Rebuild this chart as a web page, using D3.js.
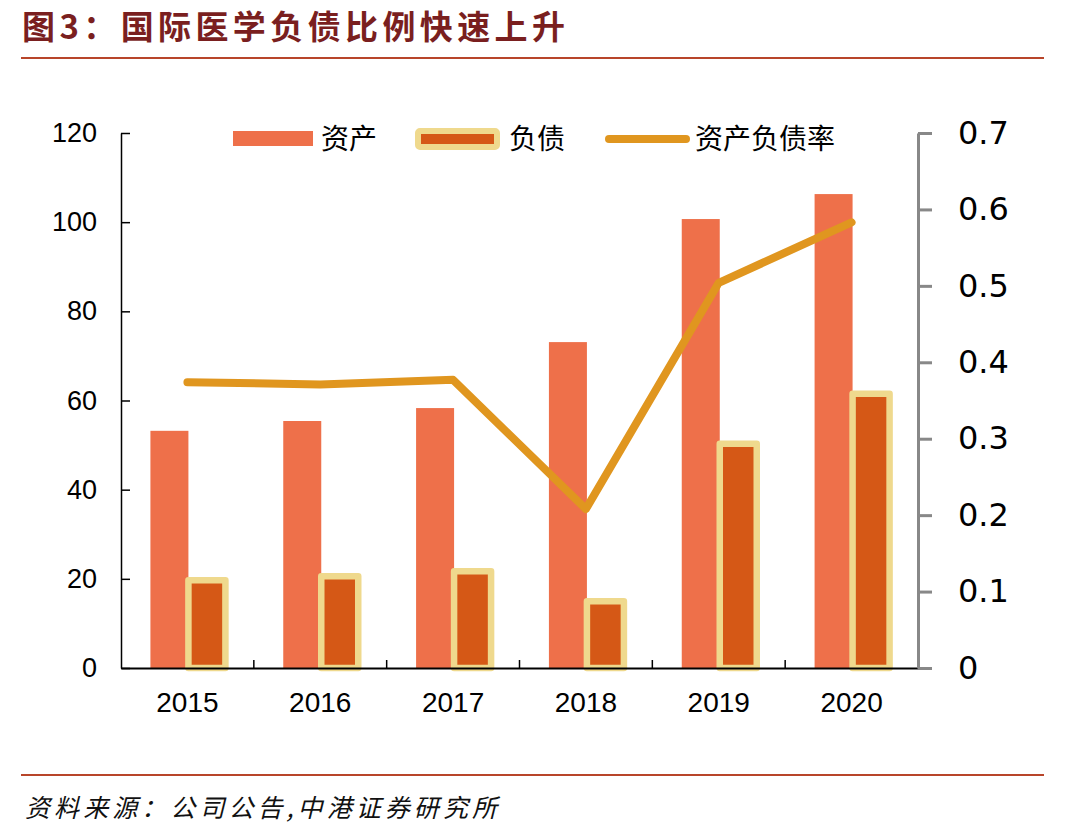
<!DOCTYPE html>
<html>
<head>
<meta charset="utf-8">
<script src="https://cdn.jsdelivr.net/npm/d3@7"></script>
<style>
  body { margin: 0; background: #fff; }
  svg { display: block; }
</style>
</head>
<body>
<svg width="1092" height="839"></svg>
<script>
// data
var years = ["2015", "2016", "2017", "2018", "2019", "2020"];
var assets = [53.2, 55.4, 58.3, 73.1, 100.7, 106.3];
var debts = [19.7, 20.6, 21.7, 15.0, 50.3, 61.5];
var ratio = [0.374, 0.371, 0.377, 0.208, 0.504, 0.583];
var leftTicks = [0, 20, 40, 60, 80, 100, 120];
var rightTicks = [0, 0.1, 0.2, 0.3, 0.4, 0.5, 0.6, 0.7];

function main(){
    var svg = d3.select("svg");
    var cAsset = "#EE704A", cDebt = "#D55816", cEdge = "#EFD98D", cLine = "#E0961F";
    var cjk = "'Noto Sans CJK SC', sans-serif";

    // title + rules
    svg.append("text")
        .attr("x", 22).attr("y", 39)
        .attr("font-family", cjk).attr("font-weight", "bold")
        .attr("font-size", "33px").attr("fill", "#7A1F1F")
        .attr("textLength", 543).attr("lengthAdjust", "spacing")
        .text("图3：国际医学负债比例快速上升");
    svg.append("line").attr("x1", 21).attr("x2", 1044).attr("y1", 58).attr("y2", 58)
        .attr("stroke", "#B8452A").attr("stroke-width", 2);
    svg.append("line").attr("x1", 21).attr("x2", 1044).attr("y1", 775).attr("y2", 775)
        .attr("stroke", "#B8452A").attr("stroke-width", 2);
    svg.append("text")
        .attr("x", 25).attr("y", 817)
        .attr("font-family", cjk).attr("font-style", "italic")
        .attr("font-size", "25px").attr("fill", "#111")
        .attr("textLength", 472).attr("lengthAdjust", "spacing")
        .text("资料来源：公司公告,中港证券研究所");

    var left = 121, right = 918, top = 133, bottom = 668;
    var x = d3.scaleBand().domain(years).range([left, right]);
    var y = d3.scaleLinear().domain([0, 120]).range([bottom, top]);
    var y2 = d3.scaleLinear().domain([0, 0.7]).range([bottom, top]);
    var bw = 38;

    var g = svg.append("g");

    // assets
    g.selectAll(".asset")
        .data(years)
        .enter().append("rect")
        .attr("class", "asset")
        .attr("x", function(d) { return x(d) + x.bandwidth() / 2 - bw + 1; })
        .attr("y", function(d, i) { return y(assets[i]); })
        .attr("width", bw)
        .attr("height", function(d, i) { return bottom - y(assets[i]); })
        .attr("fill", cAsset);

    // debts
    g.selectAll(".debt")
        .data(years)
        .enter().append("rect")
        .attr("class", "debt")
        .attr("x", function(d) { return x(d) + x.bandwidth() / 2 + 1; })
        .attr("y", function(d, i) { return y(debts[i]); })
        .attr("width", bw - 1)
        .attr("height", function(d, i) { return bottom - y(debts[i]); })
        .attr("fill", cDebt)
        .attr("stroke", cEdge)
        .attr("stroke-width", 6.5)
        .attr("stroke-linejoin", "round");

    // x axis
    var xa = svg.append("g")
        .attr("transform", "translate(0," + bottom + ")")
        .call(d3.axisBottom(x).tickSize(0).tickPadding(24));
    xa.select(".domain").attr("stroke", "#000").attr("stroke-width", 2);
    xa.selectAll("text").attr("font-family", "'Liberation Sans', Arial, sans-serif")
        .attr("font-size", "28px").attr("fill", "#000");
    xa.selectAll(".sep")
        .data(years.slice(1))
        .enter().append("line")
        .attr("class", "sep")
        .attr("x1", function(d) { return x(d); })
        .attr("x2", function(d) { return x(d); })
        .attr("y1", 0).attr("y2", -8)
        .attr("stroke", "#000").attr("stroke-width", 1.5);

    // left axis
    var ya = svg.append("g")
        .attr("transform", "translate(" + left + ",0)")
        .call(d3.axisRight(y).tickValues(leftTicks).tickSize(9).tickSizeOuter(0)
            .tickFormat(function(d) { return d; }));
    ya.select(".domain").attr("stroke", "#000").attr("stroke-width", 1.5);
    ya.selectAll(".tick line").attr("stroke", "#000").attr("stroke-width", 1.5);
    ya.selectAll("text")
        .attr("x", -24).attr("text-anchor", "end")
        .attr("font-family", "'Liberation Sans', Arial, sans-serif")
        .attr("font-size", "27px").attr("fill", "#000");

    // right axis
    var ra = svg.append("g")
        .attr("transform", "translate(" + right + ",0)")
        .call(d3.axisRight(y2).tickValues(rightTicks).tickSize(14).tickSizeOuter(0)
            .tickFormat(function(d) { return d === 0 ? "0" : d3.format(".1f")(d); }));
    ra.select(".domain").attr("stroke", "#888").attr("stroke-width", 3);
    ra.selectAll(".tick line").attr("stroke", "#888").attr("stroke-width", 3);
    ra.selectAll("text")
        .attr("x", 40)
        .attr("font-family", "'DejaVu Sans', sans-serif")
        .attr("font-size", "32px").attr("fill", "#000");

    // ratio line
    var line = d3.line()
        .x(function(d, i) { return x(years[i]) + x.bandwidth() / 2; })
        .y(function(d) { return y2(d); });
    svg.append("path")
        .datum(ratio)
        .attr("d", line)
        .attr("fill", "none")
        .attr("stroke", cLine)
        .attr("stroke-width", 8)
        .attr("stroke-linecap", "round")
        .attr("stroke-linejoin", "round");

    // legend
    var lg = svg.append("g").attr("font-family", cjk).attr("font-size", "28px").attr("fill", "#000");
    lg.append("rect").attr("x", 233).attr("y", 131).attr("width", 80).attr("height", 15).attr("fill", cAsset);
    lg.append("text").attr("x", 321).attr("y", 149).text("资产");
    lg.append("rect").attr("x", 418).attr("y", 131).attr("width", 79).attr("height", 16)
        .attr("fill", cDebt).attr("stroke", cEdge).attr("stroke-width", 6).attr("rx", 2);
    lg.append("text").attr("x", 509).attr("y", 149).text("负债");
    lg.append("line").attr("x1", 609).attr("x2", 686).attr("y1", 139).attr("y2", 139)
        .attr("stroke", cLine).attr("stroke-width", 8).attr("stroke-linecap", "round");
    lg.append("text").attr("x", 695).attr("y", 149).text("资产负债率");
}
main();
</script>
</body>
</html>
